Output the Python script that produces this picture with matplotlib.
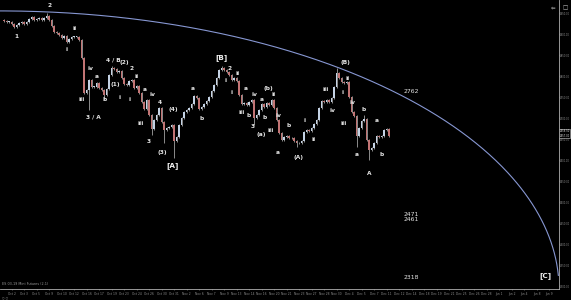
import matplotlib
matplotlib.use("Agg")
import matplotlib.pyplot as plt
import numpy as np
import pandas as pd

# closes, one per bar (price units)
closes = [
    2931, 2929, 2929, 2924, 2917, 2921, 2926, 2929, 2924, 2929,
    2936, 2940, 2933, 2936, 2938, 2933, 2938, 2943, 2933, 2919,
    2905, 2902, 2898, 2890, 2895, 2881, 2888, 2893, 2893, 2893,
    2886, 2843, 2760, 2767, 2790, 2774, 2774, 2783, 2771, 2767,
    2755, 2769, 2802, 2819, 2817, 2810, 2812, 2795, 2781, 2779,
    2788, 2790, 2771, 2776, 2760, 2738, 2721, 2743, 2707, 2674,
    2695, 2707, 2724, 2690, 2671, 2676, 2679, 2683, 2645, 2655,
    2683, 2700, 2714, 2719, 2724, 2733, 2752, 2748, 2721, 2726,
    2733, 2740, 2750, 2764, 2779, 2795, 2814, 2819, 2814, 2810,
    2802, 2790, 2795, 2788, 2755, 2733, 2736, 2731, 2738, 2743,
    2700, 2707, 2719, 2733, 2726, 2736, 2731, 2743, 2724, 2695,
    2664, 2648, 2655, 2657, 2652, 2652, 2645, 2640, 2640, 2645,
    2667, 2671, 2669, 2676, 2686, 2695, 2724, 2740, 2738, 2743,
    2738, 2748, 2774, 2807, 2795, 2786, 2783, 2786, 2750, 2714,
    2705, 2657, 2676, 2693, 2698, 2648, 2624, 2629, 2640, 2657,
    2655, 2657, 2671, 2674, 2657,
]
first_open = 2933

# bars with long wicks (index -> price)
long_lows = {34: 2719, 40: 2743, 59: 2660, 64: 2640, 68: 2605,
             100: 2683, 117: 2631, 141: 2631, 146: 2600}
long_highs = {17: 2950, 43: 2824, 87: 2824, 133: 2819, 144: 2707}

# wave count labels: text, bar index, price
wave_labels = [
    ("1", 4.8, 2895), ("2", 18.4, 2969), ("i", 25.2, 2862), ("ii", 28.4, 2912),
    ("iii", 31.2, 2743), ("3 / A", 35.6, 2702), ("iv", 34.4, 2817), ("a", 37.2, 2798),
    ("b", 40.4, 2743), ("4 / B", 43.6, 2838), ("(1)", 44.4, 2779), ("i", 46.4, 2750),
    ("(2)", 48.0, 2831), ("2", 51.2, 2817), ("i", 50.4, 2745), ("ii", 53.2, 2798),
    ("a", 56.4, 2767), ("iv", 59.2, 2755), ("iii", 54.8, 2686), ("4", 62.4, 2738),
    ("3", 58.0, 2643), ("(4)", 67.6, 2721), ("(3)", 63.2, 2619),
    ("a", 75.6, 2771), ("b", 79.2, 2698), ("2", 90.4, 2819), ("i", 88.8, 2790),
    ("ii", 93.6, 2807), ("i", 91.2, 2760), ("iii", 95.2, 2712), ("a", 96.8, 2771),
    ("iv", 100.4, 2755), ("b", 98.0, 2705), ("3", 99.6, 2679), ("(a)", 102.8, 2660),
    ("a", 103.2, 2745), ("b", 104.4, 2702), ("(b)", 105.6, 2771), ("ii", 108.0, 2755),
    ("iii", 106.8, 2671), ("iv", 110.0, 2707), ("a", 109.6, 2619), ("b", 114.0, 2683),
    ("(A)", 118.0, 2605), ("i", 120.4, 2695), ("ii", 124.0, 2650), ("iii", 128.8, 2767),
    ("iv", 131.2, 2717), ("(B)", 136.4, 2831), ("ii", 137.6, 2793), ("i", 135.6, 2760),
    ("iii", 136.0, 2686), ("iv", 139.6, 2736), ("b", 144.0, 2721), ("a", 141.2, 2612),
    ("A", 146.0, 2569), ("a", 149.2, 2695), ("b", 151.2, 2612),
]
big_labels = [("[A]", 67.6, 2588), ("[B]", 87.2, 2845), ("[C]", 216.4, 2324)]
target_labels = [("2762", 162.8, 2762), ("2471", 162.8, 2471),
                 ("2461", 162.8, 2459), ("2318", 162.8, 2321)]

price_ticks = list(range(2300, 2951, 50))
last_price = 2657

# time arc (ellipse) centre and radii in bar / price units
arc_center = (-1.6, 2293)
arc_radii = (223.6, 662)

up_col = "#c4d2e4"
down_col = "#c27474"

fig = plt.figure(figsize=(5.71, 3.0), dpi=100, facecolor="black")
ax = fig.add_axes([0, 11 / 300, 559 / 571, 289 / 300], facecolor="black")

n = len(closes)
x = np.arange(n)
opens = [first_open] + closes[:-1]
highs = [long_highs.get(i, max(o, c) + 3) for i, (o, c) in enumerate(zip(opens, closes))]
lows = [long_lows.get(i, min(o, c) - 3) for i, (o, c) in enumerate(zip(opens, closes))]
cols = [up_col if c >= o else down_col for o, c in zip(opens, closes)]

ax.vlines(x, lows, highs, color="#d8d8d8", lw=0.45, zorder=2)
bottoms = [min(o, c) for o, c in zip(opens, closes)]
heights = [max(abs(c - o), 1.5) for o, c in zip(opens, closes)]
ax.bar(x, heights, bottom=bottoms, width=0.6, color=cols, lw=0, zorder=3)

# arc
th = np.radians(np.linspace(2.8, 95, 400))
ax.plot(arc_center[0] + arc_radii[0] * np.cos(th),
        arc_center[1] + arc_radii[1] * np.sin(th),
        color="#8797d2", lw=0.8, zorder=1)

for t, xi, yi in wave_labels:
    ax.text(xi, yi, t, color="#e6e6e6", fontsize=4.2, ha="center", va="center",
            fontweight="bold", zorder=4)
for t, xi, yi in big_labels:
    ax.text(xi, yi, t, color="#f0f0f0", fontsize=5.2, ha="center", va="center",
            fontweight="bold", zorder=4)
for t, xi, yi in target_labels:
    ax.text(xi, yi, t, color="#e6e6e6", fontsize=4.4, ha="center", va="center", zorder=4)

ax.set_xlim(-1.6, 222)
ax.set_ylim(2292.9, 2981)

ax.yaxis.tick_right()
ax.set_yticks(price_ticks)
ax.set_yticklabels([f"{p:.2f}" for p in price_ticks])
ax.tick_params(axis="y", colors="#8a8a8a", labelsize=1.8, length=0.6, width=0.4, pad=0.2)

# date axis
days = pd.bdate_range("2018-10-01", periods=80)
tick_pos = np.arange(3, 220, 5)
ax.set_xticks(tick_pos)
ax.set_xticklabels([days[int(p // 3)].strftime("%b %-d") for p in tick_pos])
ax.tick_params(axis="x", colors="#8a8a8a", labelsize=2.2, length=1, width=0.4, pad=1)

for s in ["top", "left"]:
    ax.spines[s].set_visible(False)
for s in ["right", "bottom"]:
    ax.spines[s].set_color("#b0b0b0")
    ax.spines[s].set_linewidth(0.6)

ax.annotate(f"{last_price + 1.5:.2f}\n{last_price:.2f}", xy=(1.0, last_price + 6),
            xycoords=("axes fraction", "data"), xytext=(0.5, 0), textcoords="offset points",
            fontsize=1.8, color="#dddddd", va="center", ha="left",
            bbox=dict(boxstyle="square,pad=0.12", fc="black", ec="#cfcfcf", lw=0.4),
            annotation_clip=False, zorder=5)

fig.text(0.003, 0.05, "ES 03-19 Mini Futures (2.1)", color="#9a9a9a", fontsize=2.4)
fig.text(0.003, 0.004, "\u25cb \u25cb", color="#777777", fontsize=2.2)
fig.text(0.968, 0.975, "\u21d0", color="#bbbbbb", fontsize=4, ha="center", va="center")
fig.text(0.99, 0.975, "\u25a1", color="#bbbbbb", fontsize=4, ha="center", va="center")

fig.savefig("out.png", dpi=100, facecolor="black")
